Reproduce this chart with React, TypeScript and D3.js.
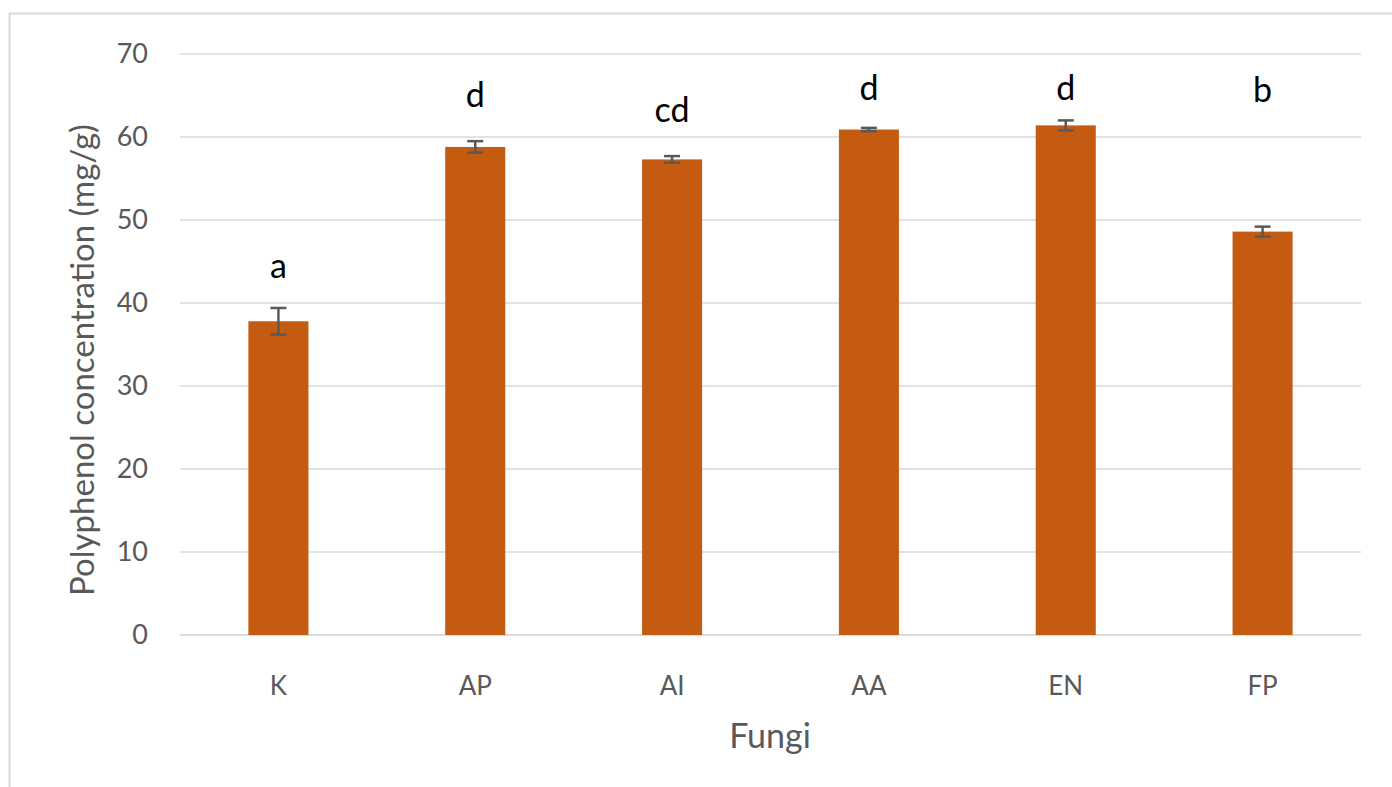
import React from "react";
import * as d3 from "d3";

const categories = ["K", "AP", "AI", "AA", "EN", "FP"];
const values = [37.8, 58.8, 57.3, 60.9, 61.4, 48.6];
const errors = [1.6, 0.7, 0.4, 0.2, 0.6, 0.6];
const letters = ["a", "d", "cd", "d", "d", "b"];
const letterPos = [43.0, 63.6, 61.8, 64.4, 64.4, 64.2];
const yTicks = [0, 10, 20, 30, 40, 50, 60, 70];

const W = 1392;
const H = 787;
const left = 180;
const right = 1361;
const top = 54;
const bottom = 635;
const font = "Lato, 'Open Sans', sans-serif";

export default function App() {
  const x = d3.scaleBand().domain(categories).range([left, right]).paddingInner(0.695).paddingOuter(0.3475);
  const y = d3.scaleLinear().domain([0, 70]).range([bottom, top]);
  const bw = x.bandwidth();
  return (
    <svg width={W} height={H} style={{ position: "absolute", left: 0, top: 0, background: "#fff" }}>
      <rect x={9.5} y={13.5} width={W + 10} height={H + 10} fill="none" stroke="#d9d9d9" strokeWidth={2} />
      {yTicks.map((t) => (
        <g key={t}>
          <line x1={left} x2={right} y1={y(t)} y2={y(t)} stroke={t === 0 ? "#d0d0d0" : "#d9d9d9"} strokeWidth={1.5} />
          <text x={148} y={y(t)} dy="0.35em" textAnchor="end" fontSize={27} fill="#595959" fontFamily={font}>
            {t}
          </text>
        </g>
      ))}
      {categories.map((c, i) => {
        const cx = (x(c) as number) + bw / 2;
        return (
          <g key={c}>
            <rect x={x(c)} y={y(values[i])} width={bw} height={y(0) - y(values[i])} fill="#C55A11" />
            <line x1={cx} x2={cx} y1={y(values[i] + errors[i])} y2={y(values[i] - errors[i])} stroke="#595959" strokeWidth={2.5} />
            <line x1={cx - 8} x2={cx + 8} y1={y(values[i] + errors[i])} y2={y(values[i] + errors[i])} stroke="#595959" strokeWidth={2.5} />
            <line x1={cx - 8} x2={cx + 8} y1={y(values[i] - errors[i])} y2={y(values[i] - errors[i])} stroke="#595959" strokeWidth={2.5} />
            <text x={cx} y={y(letterPos[i])} textAnchor="middle" fontSize={34} fill="#000" fontFamily={font}>
              {letters[i]}
            </text>
            <text x={cx} y={686} dy="0.35em" textAnchor="middle" fontSize={26} fill="#595959" fontFamily={font}>
              {c}
            </text>
          </g>
        );
      })}
      <text x={770} y={736} dy="0.35em" textAnchor="middle" fontSize={34} fill="#595959" fontFamily={font}>
        Fungi
      </text>
      <text transform={`translate(82,${(120 + 600) / 2}) rotate(-90)`} dy="0.35em" textAnchor="middle" fontSize={33} fill="#595959" fontFamily={font}>
        Polyphenol concentration (mg/g)
      </text>
    </svg>
  );
}
